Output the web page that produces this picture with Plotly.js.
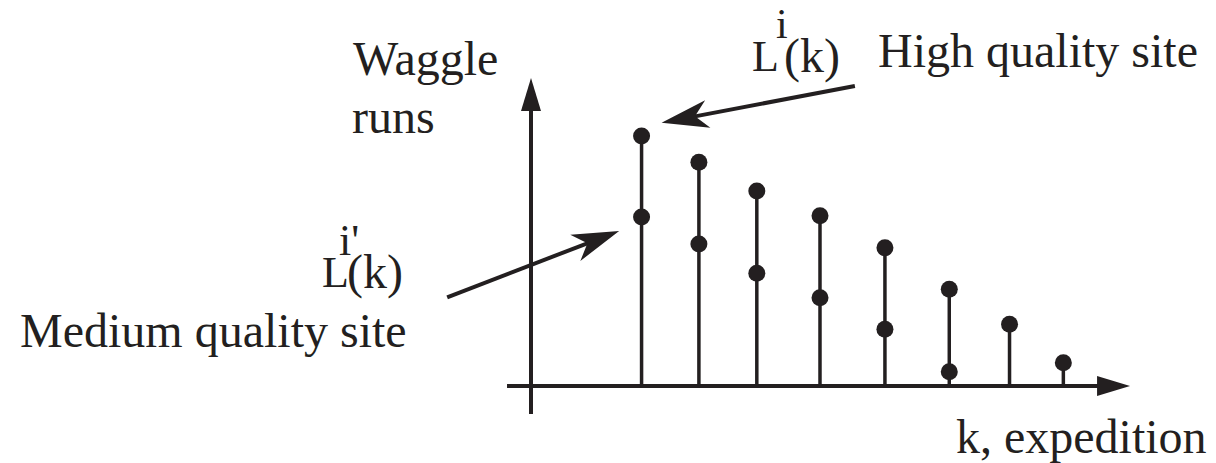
<!DOCTYPE html>
<html>
<head>
<meta charset="utf-8">
<script src="https://cdn.plot.ly/plotly-3.0.1.min.js"></script>
<style>
  html, body { margin: 0; padding: 0; background: #ffffff; }
  #chart { width: 1216px; height: 463px; }
</style>
</head>
<body>
<div id="chart"></div>
<script>
// Expedition positions along the k axis
const expeditionK = [1.89, 2.87, 3.86, 4.94, 6.05, 7.15, 8.18, 9.10];
// Waggle runs L^i(k) for the high quality site
const highQualityRuns = [10.0, 8.95, 7.8, 6.81, 5.53, 3.87, 2.47, 0.93];
// Waggle runs L^i'(k) for the medium quality site (recruiting stops after six expeditions)
const mediumQualityRuns = [6.76, 5.68, 4.51, 3.53, 2.27, 0.57];
const mediumK = expeditionK.slice(0, mediumQualityRuns.length);

// Axis labels and site labels
const yAxisLabel = ['Waggle', 'runs'];
const xAxisLabel = 'k, expedition';
const highLabel = 'High quality site';
const mediumLabel = 'Medium quality site';

const W = 1216, H = 463;
const INK = '#231f20';
const FONT = 'Liberation Serif';

// Scale: where the axes cross on the page and how many pixels one unit spans
const origin = { x: 531, y: 386 };
const pxPerK = 58.5, pxPerRun = 25;

// Axis arrows (data units)
const xAxisStart = -0.41, xAxisTip = 10.24;
const yAxisStart = -1.12, yAxisTip = 12.32;

// Stem segments from the baseline up to each high-quality count
const stemX = [], stemY = [];
expeditionK.forEach((k, i) => { stemX.push(k, k, null); stemY.push(0, highQualityRuns[i], null); });

const traces = [
  { type: 'scatter', mode: 'lines', x: stemX, y: stemY,
    line: { color: INK, width: 3.5 }, hoverinfo: 'skip', showlegend: false },
  { type: 'scatter', mode: 'markers', x: expeditionK, y: highQualityRuns, name: 'L^i(k)',
    marker: { color: INK, size: 17, line: { width: 0 } }, showlegend: false },
  { type: 'scatter', mode: 'markers', x: mediumK, y: mediumQualityRuns, name: "L^i'(k)",
    marker: { color: INK, size: 17, line: { width: 0 } }, showlegend: false }
];

// Arrow head path in pixels relative to a point (ox, oy); (ux, uy) is the screen direction it points
function headPath(ux, uy, len, half, notch, ox, oy) {
  ox = ox || 0; oy = oy || 0;
  const nx = -uy, ny = ux;
  const pts = [
    [0, 0],
    [-len * ux + half * nx, -len * uy + half * ny],
    [-notch * ux, -notch * uy],
    [-len * ux - half * nx, -len * uy - half * ny]
  ];
  return 'M' + pts.map(p => (p[0] + ox).toFixed(2) + ',' + (-(p[1] + oy)).toFixed(2)).join(' L') + ' Z';
}

function head(ax, ay, ux, uy, len, half, notch) {
  return { type: 'path', xref: 'x', yref: 'y', xsizemode: 'pixel', ysizemode: 'pixel',
    xanchor: ax, yanchor: ay, path: headPath(ux, uy, len, half, notch),
    fillcolor: INK, line: { width: 0 }, layer: 'above' };
}

// Pointer from a label towards a marker; offsets are screen pixels from the anchor point
function pointer(ax, ay, from, to) {
  const dx = to[0] - from[0], dy = to[1] - from[1];
  const d = Math.hypot(dx, dy), ux = dx / d, uy = dy / d;
  const shaftEnd = [to[0] - 30 * ux, to[1] - 30 * uy];
  const shaft = { type: 'line', xref: 'x', yref: 'y', xsizemode: 'pixel', ysizemode: 'pixel',
    xanchor: ax, yanchor: ay, x0: from[0], y0: -from[1], x1: shaftEnd[0], y1: -shaftEnd[1],
    line: { color: INK, width: 4 }, layer: 'above' };
  const tipShape = { type: 'path', xref: 'x', yref: 'y', xsizemode: 'pixel', ysizemode: 'pixel',
    xanchor: ax, yanchor: ay, path: headPath(ux, uy, 47, 14, 34, to[0], to[1]),
    fillcolor: INK, line: { width: 0 }, layer: 'above' };
  return [shaft, tipShape];
}

const shapes = [
  // horizontal axis
  { type: 'line', xref: 'x', yref: 'y', x0: xAxisStart, y0: 0, x1: xAxisTip - 20 / pxPerK, y1: 0,
    line: { color: INK, width: 4 }, layer: 'below' },
  head(xAxisTip, 0, 1, 0, 33, 10, 33),
  // vertical axis
  { type: 'line', xref: 'x', yref: 'y', x0: 0, y0: yAxisStart, x1: 0, y1: yAxisTip - 20 / pxPerRun,
    line: { color: INK, width: 4 }, layer: 'below' },
  head(0, yAxisTip, 0, -1, 33, 10, 33),
  // pointers to the first expedition's markers
  ...pointer(expeditionK[0], highQualityRuns[0], [213.3, -50], [20, -13.3]),
  ...pointer(expeditionK[0], mediumQualityRuns[0], [-194.4, 80.3], [-22.4, 14])
];

// Text placed by its left edge and baseline in page pixels
function label(str, left, baseline, size, pad) {
  return { xref: 'paper', yref: 'paper', x: left / W, y: 1 - (baseline - 0.3375 * size) / H,
    xanchor: 'left', yanchor: 'middle', showarrow: false, text: str,
    borderpad: pad === undefined ? 1 : pad,
    font: { family: FONT, size: size, color: INK } };
}

const annotations = [
  label(yAxisLabel[0], 351, 75, 48),
  label(yAxisLabel[1], 350, 133, 48),
  label(highLabel, 876, 67, 48),
  label(mediumLabel, 18, 347, 48),
  label(xAxisLabel, 954, 453, 48),
  // L^i(k)
  label('L', 750, 71, 44),
  label('i', 775, 38, 42, 0),
  label('(k)', 782, 72, 48),
  // L^i'(k)
  label('L', 320, 287, 44),
  label("i'", 337, 255, 44),
  label('(k)', 345, 288, 48)
];

const layout = {
  width: W, height: H,
  margin: { l: 0, r: 0, t: 0, b: 0 },
  paper_bgcolor: '#ffffff', plot_bgcolor: '#ffffff',
  font: { family: FONT, color: INK },
  showlegend: false,
  xaxis: { range: [-origin.x / pxPerK, (W - origin.x) / pxPerK], visible: false, fixedrange: true },
  yaxis: { range: [-(H - origin.y) / pxPerRun, origin.y / pxPerRun], visible: false, fixedrange: true },
  shapes: shapes,
  annotations: annotations
};

Plotly.newPlot('chart', traces, layout, { displayModeBar: false, staticPlot: true });
</script>
</body>
</html>
